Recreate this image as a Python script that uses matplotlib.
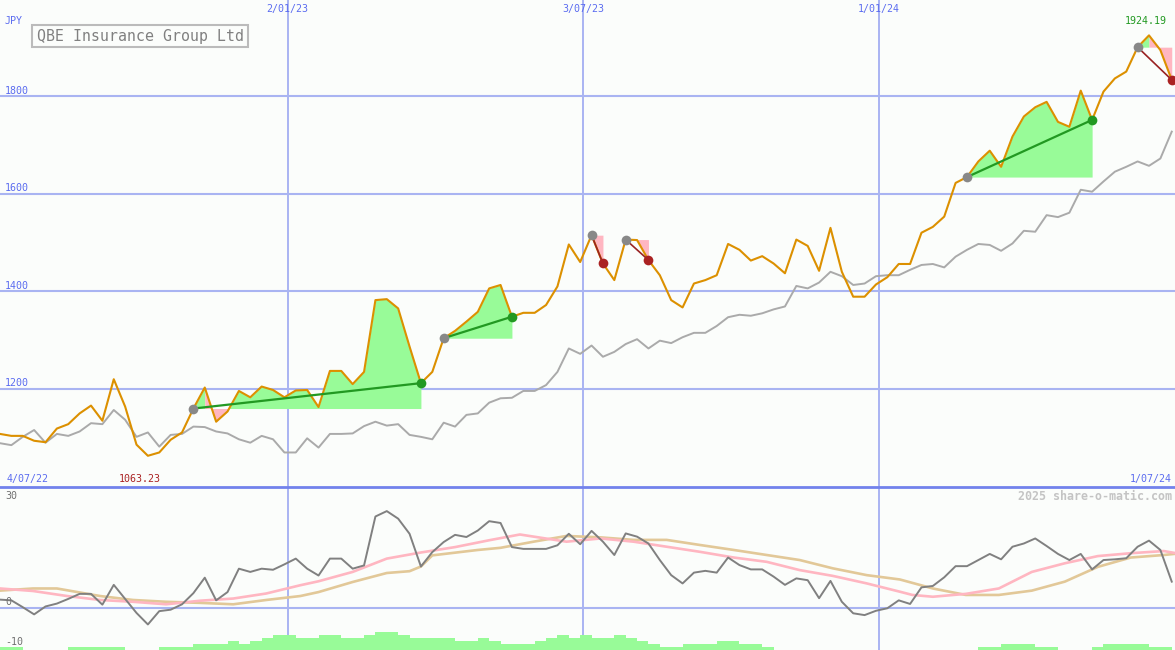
import numpy as np
import pandas as pd
import matplotlib.pyplot as plt
from matplotlib.lines import Line2D
from matplotlib.patches import Rectangle

plt.rcParams['font.family'] = 'DejaVu Sans Mono'

W, H = 1175, 650
FOND = '#fbfdfb'
BLEU = '#5b6cf0'
GRILLE = '#a9b4f2'
VERT = '#98fb98'
ROSE = '#ffb6c1'

# cours hebdo (JPY) et indice de comparaison
dates = pd.date_range('2022-07-09', periods=104, freq='7D')
price = [1108, 1104, 1104, 1094, 1091, 1119, 1128, 1150, 1166, 1135,
         1220, 1164, 1086, 1063.23, 1070, 1096, 1111, 1160, 1203, 1133,
         1154, 1196, 1183, 1205, 1198, 1183, 1197, 1198, 1163, 1237,
         1237, 1210, 1235, 1382, 1384, 1365, 1287, 1212, 1235, 1304,
         1319, 1338, 1358, 1406, 1413, 1348, 1356, 1356, 1372, 1410,
         1496, 1460, 1515, 1457, 1423, 1506, 1505, 1464, 1433, 1382,
         1367, 1416, 1423, 1433, 1497, 1485, 1463, 1472, 1457, 1437,
         1506, 1493, 1442, 1530, 1440, 1389, 1389, 1414, 1429, 1456,
         1456, 1520, 1532, 1553, 1622, 1634, 1666, 1688, 1655, 1717,
         1758, 1777, 1788, 1747, 1737, 1811, 1751, 1809, 1836, 1850,
         1900, 1924.19, 1894, 1833]
index = [1089, 1085, 1102, 1116, 1090, 1108, 1104, 1113, 1130, 1128,
         1157, 1137, 1102, 1111, 1082, 1106, 1108, 1123, 1122, 1113,
         1109, 1097, 1090, 1104, 1097, 1070, 1070, 1099, 1080, 1108,
         1108, 1109, 1124, 1133, 1125, 1128, 1106, 1102, 1097, 1131,
         1123, 1147, 1150, 1172, 1181, 1182, 1196, 1196, 1208, 1235,
         1283, 1272, 1289, 1266, 1276, 1292, 1302, 1283, 1299, 1294,
         1306, 1315, 1315, 1329, 1347, 1352, 1350, 1355, 1363, 1369,
         1411, 1406, 1418, 1440, 1431, 1413, 1416, 1431, 1433, 1433,
         1444, 1454, 1456, 1449, 1471, 1485, 1497, 1495, 1483, 1498,
         1524, 1522, 1556, 1552, 1561, 1608, 1604, 1625, 1645, 1655,
         1666, 1657, 1672, 1727]

# signaux : (semaine de départ, semaine de fin)
signals = [(17, 37), (39, 45), (52, 53), (55, 57), (85, 96), (100, 103)]

# panneau du bas
mom = [2.2, 2.0, 0.1, -1.9, 0.3, 1.1, 2.4, 3.8, 3.8, 0.8,
       6.3, 2.4, -1.5, -4.7, -1.0, -0.6, 0.9, 4.0, 8.3, 2.0,
       4.3, 10.8, 9.9, 10.8, 10.5, 12.0, 13.6, 10.8, 8.9, 13.6,
       13.6, 10.8, 11.7, 25.3, 26.8, 24.7, 20.5, 11.4, 15.4, 18.2,
       20.2, 19.6, 21.4, 24.0, 23.5, 16.8, 16.3, 16.3, 16.3, 17.3,
       20.5, 17.6, 21.3, 18.3, 14.6, 20.6, 19.7, 17.8, 13.2, 9.0,
       6.7, 9.7, 10.2, 9.7, 13.9, 11.8, 10.6, 10.6, 8.6, 6.3,
       8.1, 7.6, 2.6, 7.4, 1.6, -1.6, -2.1, -0.9, -0.2, 2.0,
       1.0, 5.6, 6.0, 8.4, 11.5, 11.5, 13.2, 14.9, 13.4, 16.9,
       17.8, 19.2, 17.1, 14.9, 13.2, 14.9, 10.6, 13.2, 13.4, 13.7,
       16.9, 18.6, 16.0, 7.2]
pink_wk = [0, 2.9, 5.9, 8.8, 11.7, 14.6, 17.6, 20.5, 23.4, 26.4, 28, 31, 34, 37,
           40, 43, 45.7, 49.8, 52.8, 55.7, 58.6, 61.5, 64.5, 67.4, 70.3, 73.2,
           76.2, 79.1, 80.2, 82, 84.9, 87.8, 90.7, 93.6, 96.5, 99.4, 102.3, 103.2]
pink_v = [5.3, 4.6, 3.2, 2.1, 1.6, 0.9, 1.9, 2.5, 3.9, 6.2, 7.3, 9.9, 13.6, 15.3,
          16.8, 18.7, 20.3, 18.3, 19.2, 18.3, 16.9, 15.5, 13.9, 12.7, 10.4, 8.8,
          6.7, 4.4, 3.5, 3.0, 3.8, 5.3, 9.9, 12.3, 14.3, 15.1, 15.7, 15.2]
tan_wk = [0, 2.9, 5, 8.8, 11.7, 14.6, 17.6, 20.5, 23.4, 26.4, 28, 31, 34, 36, 37,
          38, 42, 44, 46.9, 49.8, 52.8, 55.7, 58.6, 61.5, 64.5, 67.4, 70.3, 73.2,
          76.2, 79.1, 82, 84.9, 87.8, 90.7, 93.6, 96.5, 99.4, 102.3, 103.2]
tan_v = [4.7, 5.3, 5.3, 3.2, 2.1, 1.6, 1.3, 0.9, 2.1, 3.2, 4.3, 7.1, 9.6, 10.1, 11.4,
         14.5, 16.0, 16.6, 18.3, 19.9, 19.5, 18.8, 18.8, 17.4, 16.0, 14.6, 13.2, 10.9,
         9.0, 7.8, 5.3, 3.5, 3.5, 4.7, 7.2, 11.3, 13.9, 14.6, 14.9]
bars = [1, 1, 0, 0, 0, 0, 1, 1, 1, 1, 1, 0, 0, 0, 1, 1, 1, 2, 2, 2,
        3, 2, 3, 4, 5, 5, 4, 4, 5, 5, 4, 4, 5, 6, 6, 5, 4, 4, 4, 4,
        3, 3, 4, 3, 2, 2, 2, 3, 4, 5, 4, 5, 4, 4, 5, 4, 3, 2, 1, 1,
        2, 2, 2, 3, 3, 2, 2, 1, 0, 0, 0, 0, 0, 0, 0, 0, 0, 0, 0, 0,
        0, 0, 0, 0, 0, 0, 1, 1, 2, 2, 2, 1, 1, 0, 0, 0, 1, 2, 2, 2,
        2, 1, 1]

price_levels = [1200, 1400, 1600, 1800]
date_lines = ['2023-01-02', '2023-07-03', '2024-01-01']
date_labels = ['2/01/23', '3/07/23', '1/01/24']


def fx(x):
    return x / W


def fy(y):
    return 1 - y / H


def wk(w):
    return dates[0] + pd.to_timedelta(np.array(w) * 7, unit='D')


fig = plt.figure(figsize=(W / 100, H / 100), dpi=100, facecolor=FOND)
ax = fig.add_axes([0, fy(487), 1, 487 / H])
ax2 = fig.add_axes([0, 0, 1, fy(487)])
xmax = pd.Timestamp('2024-07-01')

# --- panneau des cours ---
ax.set_xlim(dates[0], xmax)
ax.set_ylim(999.3, 1996.6)
ax.axis('off')
for v in price_levels:
    ax.axhline(v, color=GRILLE, lw=1.5, zorder=0)
    ax.annotate(str(v), xy=(0, v), xycoords=('axes fraction', 'data'), xytext=(5, 5.5),
                textcoords='offset pixels', va='center', ha='left', fontsize=7.2, color=BLEU)
for d, lab in zip(date_lines, date_labels):
    ax.axvline(pd.Timestamp(d), color=GRILLE, lw=1.4, zorder=0)
    ax2.axvline(pd.Timestamp(d), color=GRILLE, lw=1.4, zorder=0)
    ax.annotate(lab, xy=(pd.Timestamp(d), 1), xycoords=('data', 'axes fraction'), xytext=(0, -9),
                textcoords='offset pixels', va='center', ha='center', fontsize=7.2, color=BLEU)

for s, e in signals:
    base = price[s]
    cols = [VERT if price[i + 1] >= base else ROSE for i in range(s, e)]
    i = s
    while i < e:
        j = i
        while j + 1 < e and cols[j + 1 - s] == cols[i - s]:
            j += 1
        ax.fill_between(dates[i:j + 2], price[i:j + 2], base, color=cols[i - s], lw=0, zorder=1)
        i = j + 1

ax.plot(dates, index, color='#aaaaaa', lw=1.4, zorder=2)
ax.plot(dates, price, color='#dc9000', lw=1.5, zorder=3)

for s, e in signals:
    up = price[e] > price[s]
    ax.plot([dates[s], dates[e]], [price[s], price[e]], color='#229922' if up else '#992222',
            lw=1.6 if up else 1.2, zorder=4)
    ax.plot(dates[s], price[s], 'o', ms=7, color='#888888', mec='none', zorder=5)
    ax.plot(dates[e], price[e], 'o', ms=7, color='#229922' if up else '#aa2222', mec='none', zorder=5)

imin = int(np.argmin(price))
imax = int(np.argmax(price))
ax.annotate(f'{price[imin]:.2f}', xy=(dates[imin], 0), xycoords=('data', 'axes fraction'),
            xytext=(-8, 8), textcoords='offset pixels', ha='center', va='center',
            fontsize=7.2, color='#aa2222')
ax.annotate(f'{price[imax]:.2f}', xy=(dates[imax], 1), xycoords=('data', 'axes fraction'),
            xytext=(-3.5, -21), textcoords='offset pixels', ha='center', va='center',
            fontsize=7.2, color='#229922')

# --- panneau du bas ---
ax2.set_xlim(dates[0], xmax)
ax2.set_ylim(-11.8, 33.5)
ax2.axis('off')
ax2.axhline(0, color=GRILLE, lw=1.5, zorder=0)
ax2.bar(dates[:len(bars)], np.array(bars) * 0.85, width=7, align='edge', bottom=-11.8,
        color=VERT, lw=0, zorder=1)
ax2.plot(wk(tan_wk), tan_v, color='#e2c898', lw=1.9, zorder=2)
ax2.plot(wk(pink_wk), pink_v, color=ROSE, lw=1.9, zorder=3)
ax2.plot(dates, mom, color='#808080', lw=1.4, zorder=4)

# séparation, titre et textes
fig.add_artist(Line2D([0, 1], [fy(487), fy(487)], color='#7282ec', lw=2))
fig.add_artist(Rectangle((fx(32), fy(47)), fx(216), 22 / H, fill=False, ec='#bbbbbb', lw=1.5))
fig.text(fx(37), fy(36.5), 'QBE Insurance Group Ltd', ha='left', va='center', fontsize=10.7, color='#808080')
fig.text(fx(5), fy(21), 'JPY', ha='left', va='center', fontsize=7.2, color=BLEU)
fig.text(fx(7), fy(479), '4/07/22', ha='left', va='center', fontsize=7.2, color=BLEU)
fig.text(fx(1172), fy(479), '1/07/24', ha='right', va='center', fontsize=7.2, color=BLEU)
fig.text(fx(1172), fy(496), '2025 share-o-matic.com', ha='right', va='center', fontsize=8.4,
         fontweight='bold', color='#c4c4c4')
for lab, yy in [('30', 496), ('0', 602), ('-10', 642)]:
    fig.text(fx(5), fy(yy), lab, ha='left', va='center', fontsize=7.2, color='#707070')

fig.savefig('out.png', dpi=100, facecolor=FOND)
